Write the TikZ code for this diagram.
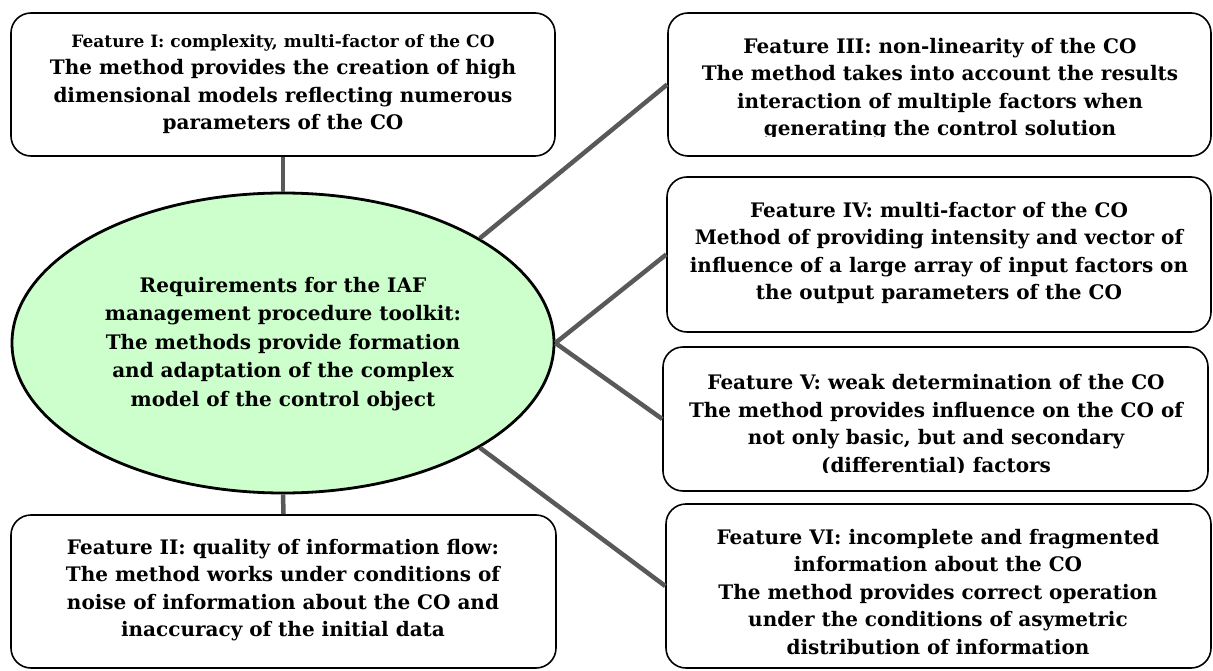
\documentclass[tikz,border=0pt]{standalone}
\usepackage{fontspec}
\setmainfont{DejaVu Serif}
\usetikzlibrary{shapes.geometric}
\definecolor{elfill}{RGB}{204,255,204}
\definecolor{connc}{RGB}{89,89,89}
\begin{document}
\begin{tikzpicture}[x=1pt,y=-1pt,
  box/.style={draw=black, line width=1.6pt, rounded corners=20pt, inner sep=0pt},
  txt/.style={align=center, font=\bfseries\fontsize{20}{27.5}\selectfont, inner sep=0pt},
  conn/.style={draw=connc, line width=4.5pt}]
\useasboundingbox (0,0) rectangle (1213,671);
% boxes
\node[box, minimum width=544pt, minimum height=143pt] (b1) at (283,84.5) {};
\node[box, minimum width=545pt, minimum height=153pt] (b2) at (283.5,591.5) {};
\node[box, minimum width=543pt, minimum height=143pt] (b3) at (939.5,84.5) {};
\node[box, minimum width=544pt, minimum height=155pt] (b4) at (939,254.5) {};
\node[box, minimum width=545pt, minimum height=144pt] (b5) at (935.5,419) {};
\node[box, minimum width=545pt, minimum height=164pt] (b6) at (938.5,586) {};
% central ellipse
\node[ellipse, draw=black, line width=2.8pt, fill=elfill, minimum width=542pt, minimum height=300pt, inner sep=0pt] (e) at (283,343) {};
% connectors
\draw[conn] (b1.south) -- (e.north);
\draw[conn] (e.south) -- (b2.north);
\draw[conn] (e.28.6) -- (b3.west);
\draw[conn] (e.east) -- (b4.west);
\draw[conn] (e.east) -- (b5.west);
\draw[conn] (e.-28.6) -- (b6.west);
% texts
\node[txt, font=\bfseries\fontsize{20}{28.5}\selectfont] (te) at (283,344) {Requirements for the IAF\\management procedure toolkit:\\The methods provide formation\\and adaptation of the complex\\model of the control object};
\node[txt] (t1) at (283,84) {{\fontsize{17}{22}\selectfont Feature I: complexity, multi-factor of the CO}\\The method provides the creation of high\\dimensional models reflecting numerous\\parameters of the CO};
\node[txt] (t2) at (283,590) {Feature II: quality of information flow:\\The method works under conditions of\\noise of information about the CO and\\inaccuracy of the initial data};
\begin{scope}
\clip (660,0) rectangle (1213,137);
\node[txt] (t3) at (940,89) {Feature III: non-linearity of the CO\\The method takes into account the results\\interaction of multiple factors when\\generating the control solution};
\end{scope}
\node[txt] (t4) at (939,253) {Feature IV: multi-factor of the CO\\Method of providing intensity and vector of\\influence of a large array of input factors on\\the output parameters of the CO};
\begin{scope}
\clip (660,340) rectangle (1213,472);
\node[txt] (t5) at (936,425) {Feature V: weak determination of the CO\\The method provides influence on the CO of\\not only basic, but and secondary\\(differential) factors};
\end{scope}
\node[txt] (t6) at (938,592) {Feature VI: incomplete and fragmented\\information about the CO\\The method provides correct operation\\under the conditions of asymetric\\distribution of information};
\end{tikzpicture}
\end{document}
